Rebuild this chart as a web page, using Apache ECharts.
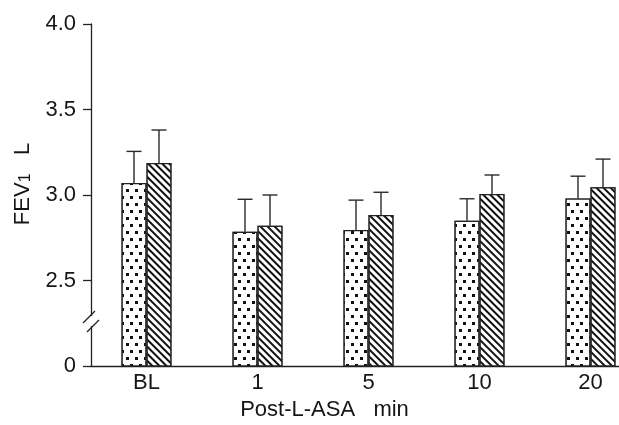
<!DOCTYPE html>
<html>
<head>
<meta charset="utf-8">
<script src="https://cdn.jsdelivr.net/npm/echarts@6/dist/echarts.min.js"></script>
<style>html,body{margin:0;padding:0;background:#fff}#c{width:619px;height:425px}</style>
</head>
<body>
<div id="c"></div>
<script>
const categories = ['BL', '1', '5', '10', '20'];
const dottedMean = [3.07, 2.785, 2.795, 2.85, 2.98];
const dottedUpper = [3.255, 2.975, 2.97, 2.978, 3.11];
const hatchMean = [3.187, 2.82, 2.883, 3.006, 3.045];
const hatchUpper = [3.38, 3.0, 3.016, 3.117, 3.21];
const yTickLabels = {'2.0': '0', '2.5': '2.5', '3.0': '3.0', '3.5': '3.5', '4.0': '4.0'};

const FONT = 'Liberation Sans, Arial, sans-serif';
const INK = '#161616';
const BAR_W = 25;

function errSeries(upper, mean, side) {
  return {
    type: 'custom',
    data: upper.map((u, i) => [i, mean[i], u]),
    z: 1,
    renderItem: function (params, api) {
      const base = api.coord([api.value(0), api.value(1)]);
      const top = api.coord([api.value(0), api.value(2)]);
      const x = base[0] + side * BAR_W / 2;
      const st = {stroke: '#2a2a2a', lineWidth: 1.4};
      return {
        type: 'group',
        children: [
          {type: 'line', shape: {x1: x, y1: base[1], x2: x, y2: top[1]}, style: st},
          {type: 'line', shape: {x1: x - 7.5, y1: top[1], x2: x + 7.5, y2: top[1]}, style: st}
        ]
      };
    }
  };
}

const chart = echarts.init(document.getElementById('c'), null, {renderer: 'canvas'});
chart.setOption({
  animation: false,
  backgroundColor: '#fff',
  grid: {left: 91, top: 24, height: 342, width: 555, containLabel: false, outerBoundsMode: 'none'},
  xAxis: {
    type: 'category',
    data: categories,
    axisLine: {lineStyle: {color: '#222', width: 1.3}},
    axisTick: {show: false},
    axisLabel: {color: INK, fontSize: 22, fontFamily: FONT, margin: 6},
    name: 'Post-L-ASA   min',
    nameLocation: 'middle',
    nameGap: 27,
    nameTextStyle: {color: INK, fontSize: 22, fontFamily: FONT, padding: [0, 88, 0, 0]}
  },
  yAxis: {
    type: 'value',
    min: 2.0, max: 4.0, interval: 0.5,
    splitLine: {show: false},
    axisLine: {show: true, lineStyle: {color: '#222', width: 1.3}},
    axisTick: {show: true, length: 8, lineStyle: {color: '#222', width: 1.3}},
    axisLabel: {color: INK, fontSize: 22, fontFamily: FONT, margin: 15,
      formatter: v => yTickLabels[v.toFixed(1)] || ''},
    name: 'FEV{s|1}   L',
    nameLocation: 'middle',
    nameRotate: 90,
    nameGap: 57,
    nameTextStyle: {color: INK, fontSize: 22, fontFamily: FONT, padding: [0, 0, 0, 22],
      rich: {s: {fontSize: 16, fontFamily: FONT, color: INK, verticalAlign: 'bottom'}}}
  },
  series: [
    {
      type: 'bar', data: dottedMean, barWidth: BAR_W, barGap: '0%', z: 2,
      itemStyle: {
        color: '#fff', borderColor: '#222', borderWidth: 1.3,
        decal: {symbol: 'rect', symbolSize: 1, color: '#111', backgroundColor: '#fff',
          dashArrayX: [[2.5, 5.5], [0, 4, 2.5, 1.5]], dashArrayY: [2.5, 3.5], rotation: 0}
      }
    },
    {
      type: 'bar', data: hatchMean, barWidth: BAR_W, z: 2,
      itemStyle: {
        color: '#fff', borderColor: '#222', borderWidth: 1.3,
        decal: {symbol: 'rect', symbolSize: 1, color: '#111', backgroundColor: '#fff',
          dashArrayX: [1, 0], dashArrayY: [1.8, 2.4], rotation: Math.PI / 4}
      }
    },
    errSeries(dottedUpper, dottedMean, -1),
    errSeries(hatchUpper, hatchMean, 1)
  ],
  graphic: [
    {type: 'rect', shape: {x: 86, y: 316, width: 10, height: 10}, style: {fill: '#fff'}, z: 100},
    {type: 'line', shape: {x1: 83, y1: 323, x2: 95, y2: 311}, style: {stroke: '#222', lineWidth: 1.3}, z: 101},
    {type: 'line', shape: {x1: 87, y1: 332, x2: 99, y2: 320}, style: {stroke: '#222', lineWidth: 1.3}, z: 101}
  ]
});
</script>
</body>
</html>
